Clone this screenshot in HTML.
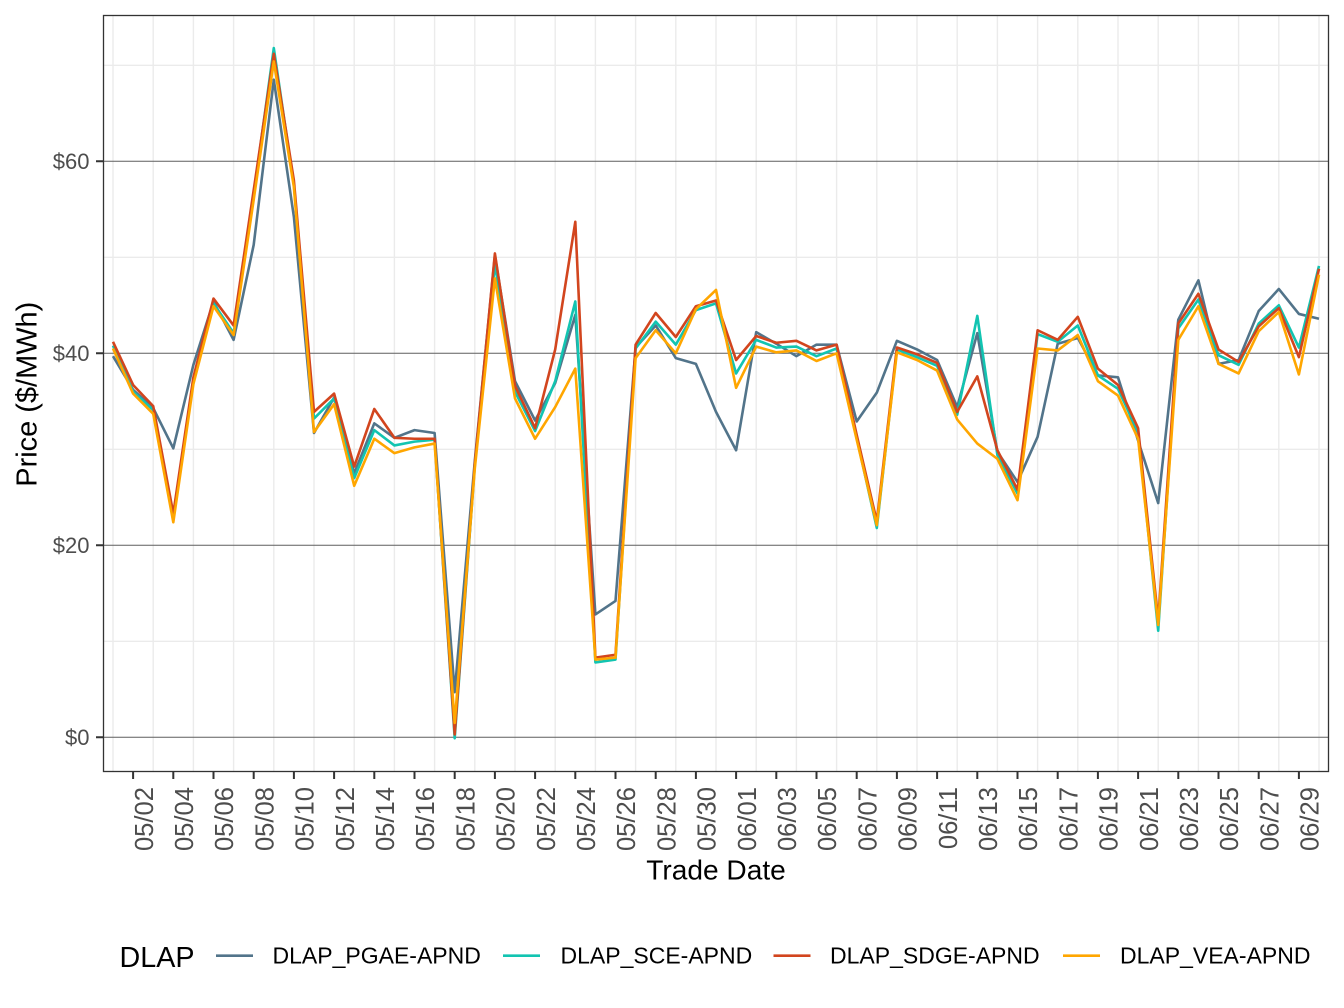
<!DOCTYPE html>
<html>
<head>
<meta charset="utf-8">
<style>
html,body{margin:0;padding:0;background:#fff;}
svg{display:block;}
text{font-family:"Liberation Sans",Arial,sans-serif;}
</style>
</head>
<body>
<svg width="1344" height="1008" viewBox="0 0 1344 1008" xmlns="http://www.w3.org/2000/svg">
<rect x="0" y="0" width="1344" height="1008" fill="#fff"/>
<!-- minor gridlines -->
<g stroke="#ebebeb" stroke-width="1.4" fill="none">
<path d="M103.5 641.3H1328.5M103.5 449.3H1328.5M103.5 257.3H1328.5M103.5 65.3H1328.5"/>
<path d="M113 15.5V771.5M153.2 15.5V771.5M193.4 15.5V771.5M233.6 15.5V771.5M273.8 15.5V771.5M314 15.5V771.5M354.2 15.5V771.5M394.4 15.5V771.5M434.6 15.5V771.5M474.8 15.5V771.5M515 15.5V771.5M555.2 15.5V771.5M595.4 15.5V771.5M635.6 15.5V771.5M675.8 15.5V771.5M716 15.5V771.5M756.2 15.5V771.5M796.4 15.5V771.5M836.6 15.5V771.5M876.8 15.5V771.5M917 15.5V771.5M957.2 15.5V771.5M997.4 15.5V771.5M1037.6 15.5V771.5M1077.8 15.5V771.5M1118 15.5V771.5M1158.2 15.5V771.5M1198.4 15.5V771.5M1238.6 15.5V771.5M1278.8 15.5V771.5M1319 15.5V771.5"/>
</g>
<!-- major horizontal gridlines -->
<g stroke="#5f5f5f" stroke-width="1" fill="none">
<path d="M103.5 737.3H1328.5M103.5 545.3H1328.5M103.5 353.3H1328.5M103.5 161.3H1328.5"/>
</g>

<!-- series -->
<g transform="translate(113,737.3) scale(20.1,-9.6)" fill="none" stroke-width="2.6" stroke-linejoin="round" stroke-linecap="butt">
<polyline vector-effect="non-scaling-stroke" stroke="#52748a" points="0,39.7 1,36.2 2,34.3 3,30.1 4,38.8 5,45.4 6,41.4 7,51.3 8,68.5 9,54.2 10,31.7 11,35.4 12,27.5 13,32.7 14,31.2 15,32.0 16,31.7 17,4.7 18,28.8 19,50.2 20,37.1 21,33.0 22,36.9 23,44.0 24,12.8 25,14.2 26,40.6 27,42.9 28,39.5 29,38.9 30,33.9 31,29.9 32,42.2 33,41.0 34,39.7 35,40.9 36,40.9 37,32.9 38,35.9 39,41.3 40,40.4 41,39.3 42,34.4 43,42.1 44,29.75 45,26.6 46,31.3 47,41.0 48,41.6 49,37.7 50,37.5 51,30.9 52,24.4 53,43.5 54,47.6 55,38.9 56,39.3 57,44.4 58,46.7 59,44.1 60,43.6"/>
<polyline vector-effect="non-scaling-stroke" stroke="#12c4b1" points="0,40.8 1,36.0 2,34.1 3,22.8 4,37.2 5,45.2 6,42.1 7,56.5 8,71.8 9,57.5 10,33.2 11,35.3 12,27.0 13,32.0 14,30.4 15,30.8 16,31.0 17,-0.1 18,28.3 19,49.3 20,36.0 21,31.9 22,37.1 23,45.4 24,7.8 25,8.1 26,40.5 27,43.3 28,40.9 29,44.5 30,45.2 31,37.9 32,41.4 33,40.6 34,40.7 35,39.7 36,40.5 37,31.2 38,21.8 39,40.4 40,39.6 41,38.7 42,33.6 43,43.9 44,29.4 45,25.4 46,42.0 47,41.2 48,42.9 49,37.7 50,36.3 51,31.8 52,11.1 53,42.6 54,45.6 55,39.8 56,38.8 57,43.1 58,45.0 59,40.6 60,49.1"/>
<polyline vector-effect="non-scaling-stroke" stroke="#d2451e" points="0,41.2 1,36.7 2,34.5 3,23.3 4,37.5 5,45.7 6,42.9 7,57.0 8,71.2 9,58.0 10,33.9 11,35.8 12,28.2 13,34.2 14,31.2 15,31.1 16,31.1 17,0.3 18,28.5 19,50.4 20,36.6 21,32.2 22,40.4 23,53.7 24,8.3 25,8.6 26,40.9 27,44.2 28,41.7 29,44.9 30,45.5 31,39.3 32,41.8 33,41.1 34,41.3 35,40.3 36,40.9 37,31.5 38,22.5 39,40.6 40,39.9 41,39.0 42,33.9 43,37.6 44,29.9 45,25.8 46,42.4 47,41.4 48,43.8 49,38.4 50,36.7 51,32.2 52,12.2 53,43.1 54,46.2 55,40.4 56,39.1 57,42.8 58,44.7 59,39.6 60,48.8"/>
<polyline vector-effect="non-scaling-stroke" stroke="#ffa600" points="0,40.5 1,35.8 2,33.7 3,22.4 4,36.8 5,44.9 6,41.9 7,56.0 8,70.4 9,57.3 10,31.8 11,34.7 12,26.2 13,31.1 14,29.6 15,30.2 16,30.6 17,1.5 18,28.0 19,47.8 20,35.3 21,31.1 22,34.4 23,38.4 24,8.1 25,8.3 26,39.5 27,42.4 28,40.0 29,44.6 30,46.6 31,36.4 32,40.7 33,40.1 34,40.3 35,39.2 36,40.0 37,31.0 38,22.1 39,40.1 40,39.3 41,38.2 42,33.1 43,30.6 44,29.0 45,24.7 46,40.5 47,40.3 48,41.9 49,37.1 50,35.6 51,31.1 52,11.7 53,41.4 54,44.9 55,38.9 56,37.9 57,42.3 58,44.3 59,37.8 60,48.2"/>
</g>

<!-- panel border -->
<rect x="103.5" y="15.5" width="1225" height="756" fill="none" stroke="#333" stroke-width="1.3"/>

<!-- ticks -->
<g stroke="#333" stroke-width="2" fill="none">
<path d="M96 737.3H103.5M96 545.3H103.5M96 353.3H103.5M96 161.3H103.5"/>
<path d="M133.1 771.5V779M173.3 771.5V779M213.5 771.5V779M253.7 771.5V779M293.9 771.5V779M334.1 771.5V779M374.3 771.5V779M414.5 771.5V779M454.7 771.5V779M494.9 771.5V779M535.1 771.5V779M575.3 771.5V779M615.5 771.5V779M655.7 771.5V779M695.9 771.5V779M736.1 771.5V779M776.3 771.5V779M816.5 771.5V779M856.7 771.5V779M896.9 771.5V779M937.1 771.5V779M977.3 771.5V779M1017.5 771.5V779M1057.7 771.5V779M1097.9 771.5V779M1138.1 771.5V779M1178.3 771.5V779M1218.5 771.5V779M1258.7 771.5V779M1298.9 771.5V779"/>
</g>

<!-- y labels -->
<g font-size="22" fill="#4d4d4d" text-anchor="end">
<text x="89.5" y="745.2">$0</text>
<text x="89.5" y="553.2">$20</text>
<text x="89.5" y="361.2">$40</text>
<text x="89.5" y="169.2">$60</text>
</g>

<!-- x labels -->
<g font-size="25.6" fill="#4d4d4d" text-anchor="end">
<text transform="translate(152.8,787) rotate(-90)">05/02</text>
<text transform="translate(193,787) rotate(-90)">05/04</text>
<text transform="translate(233.2,787) rotate(-90)">05/06</text>
<text transform="translate(273.4,787) rotate(-90)">05/08</text>
<text transform="translate(313.6,787) rotate(-90)">05/10</text>
<text transform="translate(353.8,787) rotate(-90)">05/12</text>
<text transform="translate(394,787) rotate(-90)">05/14</text>
<text transform="translate(434.2,787) rotate(-90)">05/16</text>
<text transform="translate(474.4,787) rotate(-90)">05/18</text>
<text transform="translate(514.6,787) rotate(-90)">05/20</text>
<text transform="translate(554.8,787) rotate(-90)">05/22</text>
<text transform="translate(595,787) rotate(-90)">05/24</text>
<text transform="translate(635.2,787) rotate(-90)">05/26</text>
<text transform="translate(675.4,787) rotate(-90)">05/28</text>
<text transform="translate(715.6,787) rotate(-90)">05/30</text>
<text transform="translate(755.8,787) rotate(-90)">06/01</text>
<text transform="translate(796,787) rotate(-90)">06/03</text>
<text transform="translate(836.2,787) rotate(-90)">06/05</text>
<text transform="translate(876.4,787) rotate(-90)">06/07</text>
<text transform="translate(916.6,787) rotate(-90)">06/09</text>
<text transform="translate(956.8,787) rotate(-90)">06/11</text>
<text transform="translate(997,787) rotate(-90)">06/13</text>
<text transform="translate(1037.2,787) rotate(-90)">06/15</text>
<text transform="translate(1077.4,787) rotate(-90)">06/17</text>
<text transform="translate(1117.6,787) rotate(-90)">06/19</text>
<text transform="translate(1157.8,787) rotate(-90)">06/21</text>
<text transform="translate(1198,787) rotate(-90)">06/23</text>
<text transform="translate(1238.2,787) rotate(-90)">06/25</text>
<text transform="translate(1278.4,787) rotate(-90)">06/27</text>
<text transform="translate(1318.6,787) rotate(-90)">06/29</text>
</g>

<!-- axis titles -->
<text x="716" y="879.5" font-size="28" fill="#000" text-anchor="middle" textLength="139.5" lengthAdjust="spacingAndGlyphs">Trade Date</text>
<text transform="translate(36.5,394.2) rotate(-90)" font-size="29" fill="#000" text-anchor="middle" textLength="185" lengthAdjust="spacingAndGlyphs">Price ($/MWh)</text>

<!-- legend -->
<text x="119.5" y="967" font-size="29" fill="#000" textLength="75" lengthAdjust="spacingAndGlyphs">DLAP</text>
<g stroke-width="2.6" fill="none">
<path d="M216 955.7H253" stroke="#52748a"/>
<path d="M503 955.7H540" stroke="#12c4b1"/>
<path d="M773.5 955.7H810.5" stroke="#d2451e"/>
<path d="M1063 955.7H1100" stroke="#ffa600"/>
</g>
<g font-size="23" fill="#000">
<text x="272.5" y="963.5">DLAP_PGAE-APND</text>
<text x="560.5" y="963.5">DLAP_SCE-APND</text>
<text x="830" y="963.5">DLAP_SDGE-APND</text>
<text x="1120" y="963.5">DLAP_VEA-APND</text>
</g>
</svg>
</body>
</html>
